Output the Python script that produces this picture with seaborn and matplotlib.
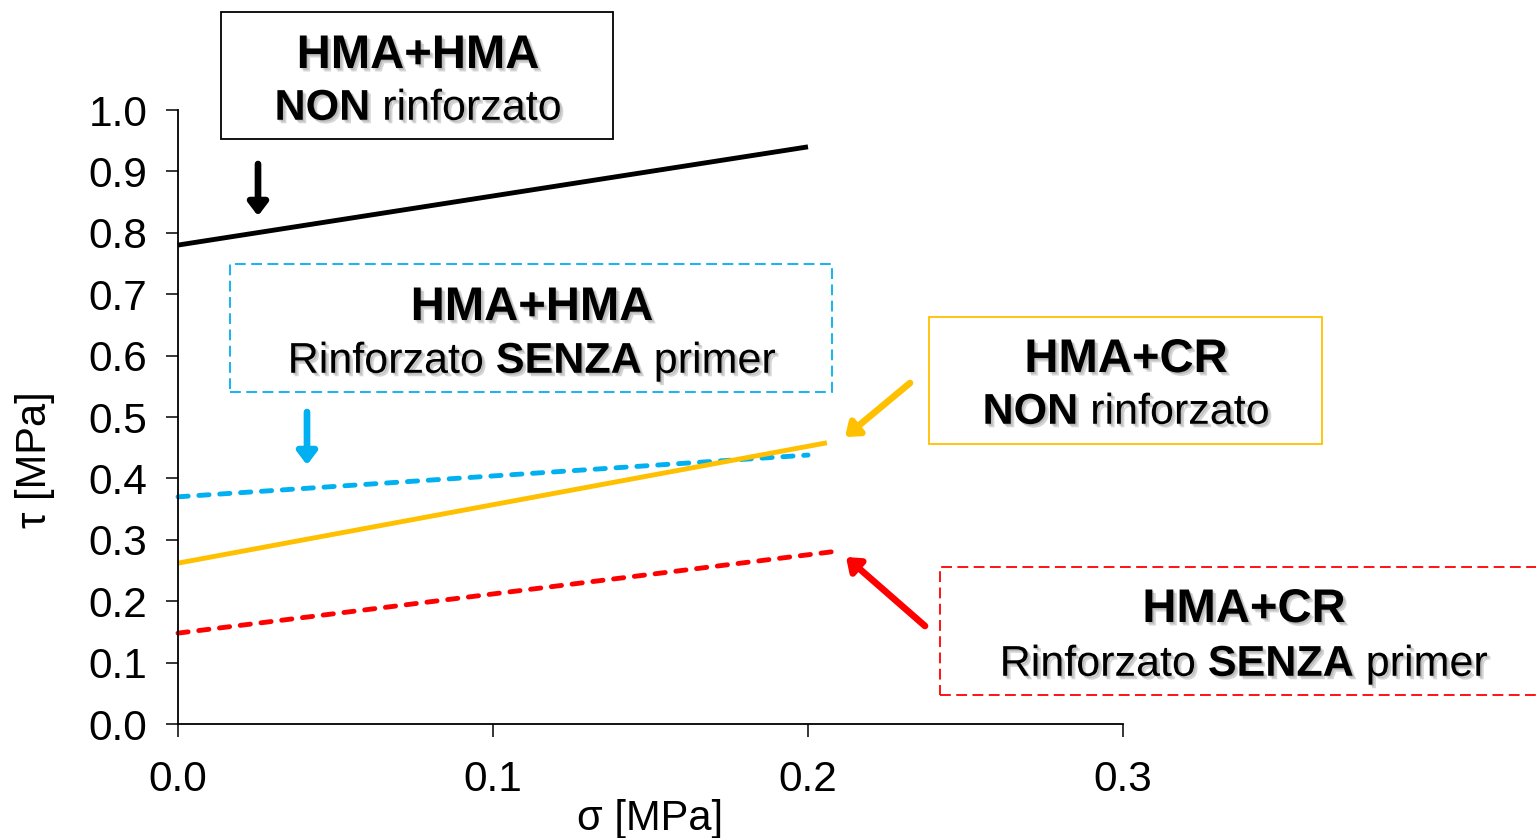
import matplotlib
matplotlib.use("Agg")
import matplotlib.pyplot as plt
import matplotlib.patheffects as pe
from matplotlib.patches import Rectangle
import seaborn as sns
import pandas as pd

# Failure envelopes tau = c + sigma*tan(phi), drawn between their end points
sigma_hma_non = [0.0, 0.20]
tau_hma_non = [0.78, 0.94]
sigma_hma_rinf = [0.0, 0.20]
tau_hma_rinf = [0.37, 0.438]
sigma_cr_non = [0.0, 0.206]
tau_cr_non = [0.262, 0.458]
sigma_cr_rinf = [0.0, 0.21]
tau_cr_rinf = [0.148, 0.282]

x_ticks = [0.0, 0.1, 0.2, 0.3]
y_ticks = [0.0, 0.1, 0.2, 0.3, 0.4, 0.5, 0.6, 0.7, 0.8, 0.9, 1.0]

BLACK = "#000000"
BLUE = "#00B0F0"
YELLOW = "#FFC000"
RED = "#FF0000"

sns.set_theme(style="white")
plt.rcParams["font.family"] = ["Liberation Sans", "DejaVu Sans"]
plt.rcParams["mathtext.fontset"] = "custom"
plt.rcParams["mathtext.rm"] = "Liberation Sans"
plt.rcParams["mathtext.bf"] = "Liberation Sans:bold"

W, H = 1536, 838
fig = plt.figure(figsize=(W / 100, H / 100), dpi=100)
ax = fig.add_axes([178 / W, 1 - 724 / H, (1123 - 178) / W, (724 - 110) / H])

DASH = (0, (2.1, 2.2))
series = [
    (sigma_hma_non, tau_hma_non, BLACK, "-"),
    (sigma_hma_rinf, tau_hma_rinf, BLUE, DASH),
    (sigma_cr_non, tau_cr_non, YELLOW, "-"),
    (sigma_cr_rinf, tau_cr_rinf, RED, DASH),
]
for xs, ys, col, ls in series:
    df = pd.DataFrame({"sigma": xs, "tau": ys})
    sns.lineplot(data=df, x="sigma", y="tau", color=col, linewidth=3.5,
                 linestyle=ls, ax=ax, clip_on=False, solid_capstyle="butt",
                 dash_capstyle="round")

ax.set_xlim(0, 0.3)
ax.set_ylim(0, 1.0)
ax.set_xticks(x_ticks)
ax.set_yticks(y_ticks)
ax.set_xticklabels([f"{v:.1f}" for v in x_ticks])
ax.set_yticklabels([f"{v:.1f}" for v in y_ticks])
for s in ("top", "right"):
    ax.spines[s].set_visible(False)
for s in ("left", "bottom"):
    ax.spines[s].set_color("black")
    ax.spines[s].set_linewidth(1.3)
ax.tick_params(axis="both", direction="out", length=9, width=1.1, color="black",
               labelsize=30.5, labelcolor="black", left=True, bottom=True)
ax.tick_params(axis="y", pad=13)
ax.tick_params(axis="x", pad=17)
ax.set_xlabel("σ [MPa]", fontsize=30, color="black")
ax.set_ylabel("τ [MPa]", fontsize=30, color="black")
ax.xaxis.set_label_coords(0.5, -0.122)
ax.yaxis.set_label_coords(-0.13, 0.43)

shadow = [pe.SimplePatchShadow(offset=(2.5, -2.5), shadow_rgbFace="#888888", alpha=0.35),
          pe.SimplePatchShadow(offset=(1.2, -1.2), shadow_rgbFace="#888888", alpha=0.35),
          pe.Normal()]


def label_box(x0, y0, x1, y1, edge, ls, title, sub, cx, ty, sy):
    rect = Rectangle((x0 / W, 1 - y1 / H), (x1 - x0) / W, (y1 - y0) / H,
                     transform=fig.transFigure, fill=False, edgecolor=edge,
                     linewidth=1.3, linestyle=ls, clip_on=False)
    fig.add_artist(rect)
    fig.text(cx / W, 1 - ty / H, title, ha="center", va="center", fontsize=34,
             fontweight="bold", color="black", path_effects=shadow)
    fig.text(cx / W, 1 - sy / H, sub, ha="center", va="center", fontsize=31,
             color="black", path_effects=shadow)


label_box(221, 12, 613, 139, BLACK, "-", "HMA+HMA",
          r"$\mathbf{NON}$ rinforzato", 418, 56, 109)
label_box(230, 264, 832, 392, BLUE, (0, (6, 3)), "HMA+HMA",
          r"Rinforzato $\mathbf{SENZA}$ primer", 532, 308, 362)
label_box(929, 317, 1322, 444, YELLOW, "-", "HMA+CR",
          r"$\mathbf{NON}$ rinforzato", 1126, 360, 413)
label_box(940, 567, 1560, 695, RED, (0, (6, 3)), "HMA+CR",
          r"Rinforzato $\mathbf{SENZA}$ primer", 1244, 610, 665)


def arrow(x_from, y_from, x_to, y_to, col):
    ax.annotate("", xy=(x_to, H - y_to), xytext=(x_from, H - y_from),
                xycoords="figure pixels", textcoords="figure pixels",
                arrowprops=dict(arrowstyle="-|>,head_length=0.5,head_width=0.38",
                                mutation_scale=15, lw=4.8, color=col,
                                shrinkA=0, shrinkB=0),
                annotation_clip=False)


arrow(258, 164, 258, 216, BLACK)
arrow(307, 412, 307, 465, BLUE)
arrow(910, 383, 845, 437, YELLOW)
arrow(925, 626, 846, 557, RED)

fig.savefig("out.png", dpi=100)
